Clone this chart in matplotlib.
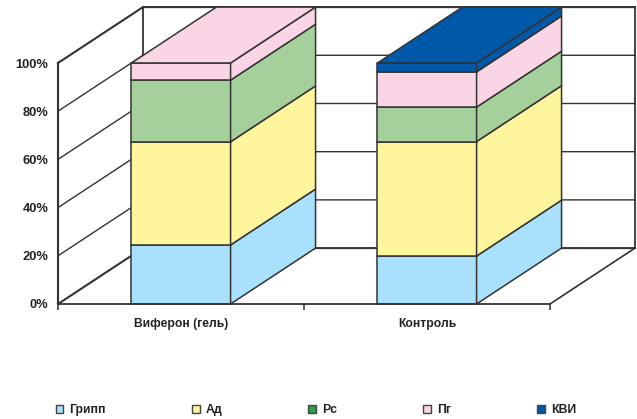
import matplotlib
matplotlib.use('Agg')
import matplotlib.pyplot as plt
from matplotlib.patches import Patch
from matplotlib.ticker import PercentFormatter

plt.rcParams['font.family'] = ['Liberation Sans', 'DejaVu Sans']

groups = ['Виферон (гель)', 'Контроль']
series = ['Грипп', 'Ад', 'Рс', 'Пг', 'КВИ']
gripp = [24.5, 19.9]
ad = [42.8, 47.5]
rs = [25.6, 14.3]
pg = [7.1, 14.6]
kvi = [0.0, 3.7]
yticks = [0, 20, 40, 60, 80, 100]

bar_colors = ['#a9e0fb', '#fff59d', '#a5d09b', '#f9d5e6', '#0059a8']
legend_colors = ['#a9e0fb', '#fff59d', '#2f9e44', '#f9d5e6', '#0059a8']
line_color = '#333333'

# сдвиг глубины псевдо-3D в единицах осей
depth_x = 0.3455
depth_y = 23.2
bar_width = 0.403
n_groups = len(groups)


def face(ax, xs, ys, color, z):
    ax.fill(xs, ys, facecolor=color, edgecolor=line_color, linewidth=1.1,
            joinstyle='miter', clip_on=False, zorder=z)


fig = plt.figure(figsize=(6.37, 4.19), dpi=100)
ax = fig.add_axes([58 / 637, 1 - 304 / 419, 492 / 637, 241 / 419])
ax.set_xlim(0, n_groups)
ax.set_ylim(0, 100)

# стенки и линии сетки
for v in yticks:
    lw = 1.5 if v in (0, 100) else 1.0
    ax.plot([0, depth_x, n_groups + depth_x], [v, v + depth_y, v + depth_y],
            color=line_color, lw=lw, clip_on=False, zorder=1)
ax.plot([depth_x, depth_x], [depth_y, 100 + depth_y], color=line_color, lw=1.3, clip_on=False, zorder=1)
ax.plot([n_groups + depth_x, n_groups + depth_x], [depth_y, 100 + depth_y], color=line_color, lw=1.3,
        clip_on=False, zorder=1)
ax.plot([n_groups, n_groups + depth_x], [0, depth_y], color=line_color, lw=1.2, clip_on=False, zorder=1)

# столбцы
data = [gripp, ad, rs, pg, kvi]
for g in range(n_groups):
    x0 = g + 0.5 - bar_width / 2
    x1 = x0 + bar_width
    bottom = 0
    top_color = None
    for s, values in enumerate(data):
        h = values[g]
        if h <= 0:
            continue
        y0, y1 = bottom, bottom + h
        z = 3 + s
        face(ax, [x0, x1, x1, x0], [y0, y0, y1, y1], bar_colors[s], z)
        face(ax, [x1, x1 + depth_x, x1 + depth_x, x1],
             [y0, y0 + depth_y, y1 + depth_y, y1], bar_colors[s], z)
        bottom = y1
        top_color = bar_colors[s]
    face(ax, [x0, x1, x1 + depth_x, x0 + depth_x],
         [bottom, bottom, bottom + depth_y, bottom + depth_y], top_color, 9)

ax.spines['top'].set_visible(False)
ax.spines['right'].set_visible(False)
ax.spines['left'].set_linewidth(1.5)
ax.spines['bottom'].set_linewidth(1.3)
ax.spines['left'].set_color(line_color)
ax.spines['bottom'].set_color(line_color)
ax.spines['left'].set_zorder(12)
ax.spines['bottom'].set_zorder(12)

ax.set_yticks(yticks)
ax.yaxis.set_major_formatter(PercentFormatter(decimals=0))
ax.tick_params(axis='y', length=0, pad=7, labelsize=9.3, labelcolor='#222222')
for lab in ax.get_yticklabels():
    lab.set_fontweight('bold')

ax.set_xticks(range(n_groups + 1))
ax.set_xticklabels([])
ax.tick_params(axis='x', which='major', length=4, width=1.1, color=line_color)
ax.set_xticks([g + 0.5 for g in range(n_groups)], minor=True)
ax.set_xticklabels(groups, minor=True, fontsize=8.7, fontweight='bold', color='#222222')
ax.tick_params(axis='x', which='minor', length=0, pad=10)

handles = [Patch(facecolor=c, edgecolor='#444444', linewidth=1.0) for c in legend_colors]
fig.legend(handles, series, ncol=5, frameon=False, loc='lower left', bbox_to_anchor=(44.5 / 637, -0.019),
           prop={'size': 8.8, 'weight': 'bold'}, labelcolor='#222222',
           handlelength=0.65, handleheight=0.65, handletextpad=0.5, columnspacing=7.02)

fig.savefig('out.png', dpi=100)
